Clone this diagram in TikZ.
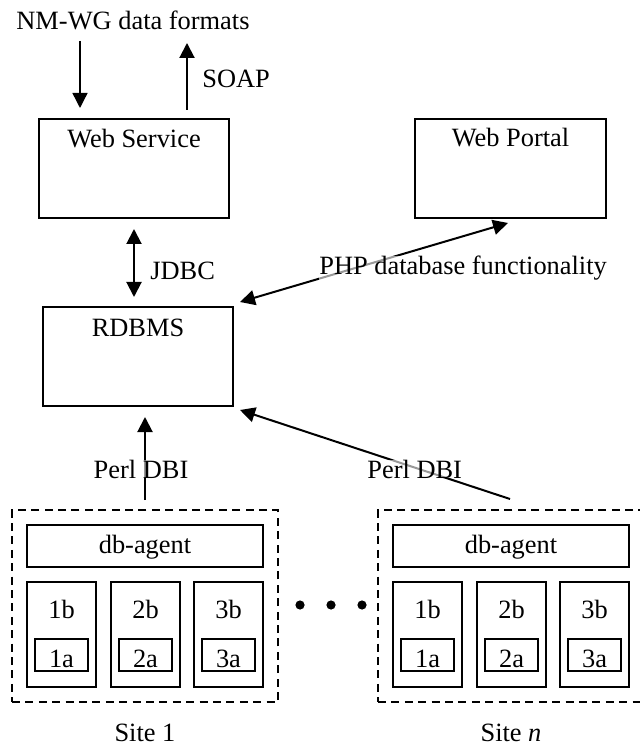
\documentclass[tikz,border=0pt]{standalone}
\usepackage{fontspec}
\setmainfont{Liberation Serif}
\usetikzlibrary{arrows.meta,calc}
\begin{document}
\begin{tikzpicture}[x=0.5pt,y=-0.5pt,
  every node/.style={font=\fontsize{13.2}{16}\selectfont},
  box/.style={draw,line width=1pt,anchor=north west,inner sep=0pt,outer sep=0pt},
  dbox/.style={draw,line width=1pt,dash pattern=on 4pt off 2.7pt,anchor=north west,inner sep=0pt,outer sep=0pt},
  txt/.style={anchor=base,inner sep=0pt},
  txtl/.style={anchor=base west,inner sep=0pt},
  onlinelbl/.style={fill=white,fill opacity=0.6,text opacity=1},
  arr/.style={line width=1pt,-{Triangle[length=7.5pt,width=7.5pt]}},
  darr/.style={line width=1pt,{Triangle[length=7.5pt,width=7.5pt]}-{Triangle[length=7.5pt,width=7.5pt]}},
  dotmark/.style={circle,fill,inner sep=0pt,minimum size=4.6pt}
]
\useasboundingbox (0,0) rectangle (639,747);

% top boxes
\node[box,minimum width=95pt,minimum height=49.5pt] (ws) at (39,119) {};
\node[txt] (wstext) at (134,148) {Web Service};
\node[box,minimum width=95.5pt,minimum height=49.5pt] (wp) at (415,119) {};
\node[txt] (wptext) at (510.5,147) {Web Portal};
\node[box,minimum width=95pt,minimum height=49.5pt] (rdb) at (43,307) {};
\node[txt] (rdbtext) at (138,337) {RDBMS};

% top labels
\node[txt] (nmwg) at (133,30) {NM-WG data formats};
\node[txtl] (soap) at (202,88) {SOAP};
\coordinate (downstart) at (80,41);
\coordinate (upend) at (187,43);
\draw[arr,line width=0.7pt,shorten >=5.5pt] (downstart) -- (downstart |- ws.north);
\draw[arr,shorten <=4.5pt] (upend |- ws.north) -- (upend);

% JDBC
\coordinate (jx) at (134,0);
\draw[darr,shorten <=5.5pt,shorten >=5pt] (jx |- ws.south) -- (jx |- rdb.north);
\node[txtl] (jdbc) at (150,280) {JDBC};

% PHP
\draw[darr] ($(wp.south)+(-2.5,5)$) -- ($(rdb.north east)+(7,-5)$);
\node[txtl,onlinelbl] (php) at (319,275) {PHP database functionality};

% sites
\foreach \n/\sx/\lab in {1/12/{Site 1}, n/378/{Site \textit{n}}} {
  \node[dbox,minimum width=133pt,minimum height=96pt] (site\n) at (\sx,510) {};
  \node[box,minimum width=118pt,minimum height=21pt] (agent\n) at (\sx+15,525) {};
  \node[txt] (agenttext\n) at (\sx+133,553) {db-agent};
  \foreach \k/\o in {1/15,2/99,3/182} {
    \node[box,minimum width=34.5pt,minimum height=52.5pt] (b\k\n) at (\sx+\o,582) {};
    \node[txt] (btext\k\n) at (\sx+\o+34.5,618) {\k b};
    \node[box,minimum width=26.5pt,minimum height=16pt] (a\k\n) at (\sx+\o+8,639) {};
    \node[txt] (atext\k\n) at (\sx+\o+34.5,667) {\k a};
  }
  \node[txt] (sitelabel\n) at (\sx+133,741) {\lab};
}

% Perl DBI connectors
\draw[arr,shorten <=5pt,shorten >=5.5pt] (site1.north) -- (site1.north |- rdb.south);
\node[txt,onlinelbl] (perl1) at (141,478) {Perl DBI};
\draw[arr] ($(siten.north)+(-1,-11)$) -- ($(rdb.south east)+(7,4)$);
\node[txtl,onlinelbl] (perln) at (367,478) {Perl DBI};

% dots
\node[dotmark] (dot1) at (300,605) {};
\node[dotmark] (dot2) at (331,605) {};
\node[dotmark] (dot3) at (362,605) {};
\end{tikzpicture}
\end{document}
